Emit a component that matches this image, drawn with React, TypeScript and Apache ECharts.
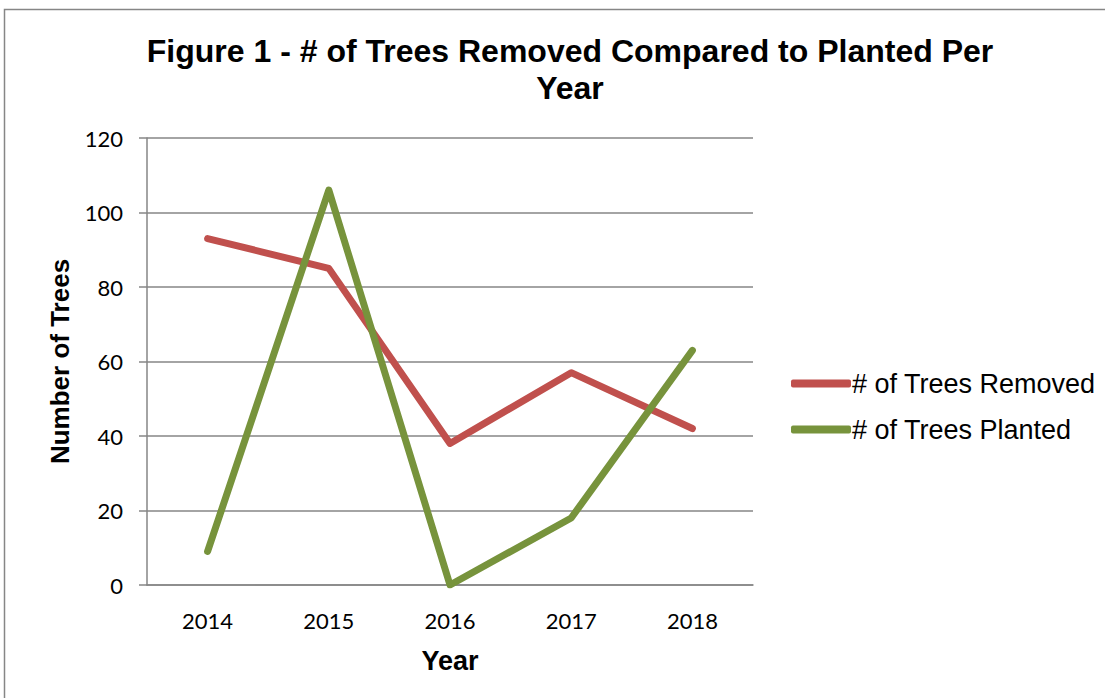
import React, { useEffect, useRef } from "react";
import * as echarts from "echarts";

const years = ["2014", "2015", "2016", "2017", "2018"];
const treesRemoved = [93, 85, 38, 57, 42];
const treesPlanted = [9, 106, 0, 18, 63];
const titleLines = ["Figure 1 - # of Trees Removed Compared to Planted Per", "Year"];

export default function App() {
  const ref = useRef<HTMLDivElement>(null);
  useEffect(() => {
    if (!ref.current) return;
    const chart = echarts.init(ref.current, null, { renderer: "svg" });
    const gray = "#868686";
    chart.setOption({
      animation: false,
      backgroundColor: "#ffffff",
      graphic: [
        {
          type: "rect",
          shape: { x: 4.5, y: 9.5, width: 1110, height: 700 },
          style: { fill: "none", stroke: gray, lineWidth: 1.5 },
          silent: true,
        },
        {
          type: "text",
          x: 570,
          y: 51,
          style: {
            text: titleLines[0],
            fontFamily: "Liberation Sans, Arial",
            fontWeight: "bold",
            fontSize: 32,
            fill: "#000",
            textAlign: "center",
            textVerticalAlign: "middle",
          },
        },
        {
          type: "text",
          x: 570,
          y: 88,
          style: {
            text: titleLines[1],
            fontFamily: "Liberation Sans, Arial",
            fontWeight: "bold",
            fontSize: 32,
            fill: "#000",
            textAlign: "center",
            textVerticalAlign: "middle",
          },
        },
      ],
      grid: { left: 147, right: 352, top: 138, bottom: 113, containLabel: false },
      legend: {
        orient: "vertical",
        left: 791,
        top: 370,
        padding: 0,
        itemGap: 19,
        itemWidth: 60,
        itemHeight: 8,
        icon: "roundRect",
        textStyle: {
          fontFamily: "Liberation Sans, Arial",
          fontSize: 27,
          lineHeight: 27,
          color: "#000",
          padding: [0, 0, 0, -4],
        },
        data: ["# of Trees Removed", "# of Trees Planted"],
      },
      xAxis: {
        type: "category",
        data: years,
        boundaryGap: true,
        name: "Year",
        nameLocation: "middle",
        nameGap: 62,
        nameTextStyle: { fontFamily: "Liberation Sans, Arial", fontWeight: "bold", fontSize: 27, color: "#000" },
        axisLine: { lineStyle: { color: gray, width: 1.5 } },
        axisTick: { show: false },
        axisLabel: { fontFamily: "Lato, Open Sans", fontSize: 22, color: "#000", margin: 24 },
        splitLine: { show: false },
      },
      yAxis: {
        type: "value",
        min: 0,
        max: 120,
        interval: 20,
        name: "Number of Trees",
        nameLocation: "middle",
        nameGap: 74,
        nameTextStyle: { fontFamily: "Liberation Sans, Arial", fontWeight: "bold", fontSize: 26, color: "#000" },
        axisLine: { show: true, lineStyle: { color: gray, width: 1.5 } },
        axisTick: { show: true, length: 8, lineStyle: { color: gray, width: 1.5 } },
        axisLabel: { fontFamily: "Lato, Open Sans", fontSize: 22, color: "#000", margin: 24 },
        splitLine: { lineStyle: { color: gray, width: 1.5 } },
      },
      series: [
        {
          name: "# of Trees Removed",
          type: "line",
          data: treesRemoved,
          symbol: "none",
          color: "#C0504D",
          lineStyle: { width: 7, cap: "round", join: "round", color: "#C0504D" },
        },
        {
          name: "# of Trees Planted",
          type: "line",
          data: treesPlanted,
          symbol: "none",
          color: "#77933C",
          lineStyle: { width: 7, cap: "round", join: "round", color: "#77933C" },
        },
      ],
    });
    return () => chart.dispose();
  }, []);
  return (
    <div
      ref={ref}
      style={{ position: "absolute", left: 0, top: 0, width: 1105, height: 698 }}
    />
  );
}
